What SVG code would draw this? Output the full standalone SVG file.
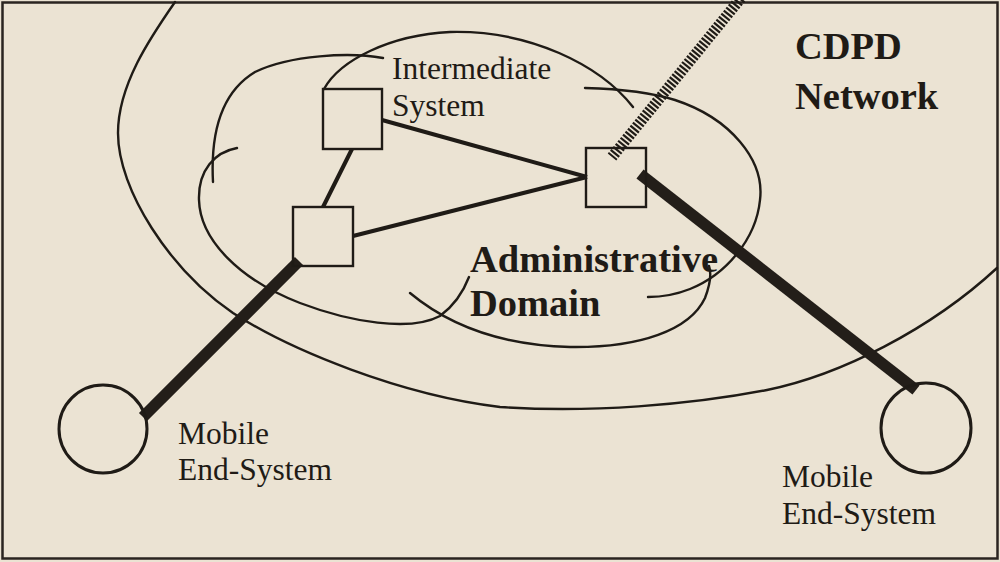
<svg xmlns="http://www.w3.org/2000/svg" width="1000" height="562" viewBox="0 0 1000 562">
<style>
.bg{fill:#ebe3d3}
.frame{fill:none;stroke:#2a2420;stroke-width:2.5}
.curve{fill:none;stroke:#1f1b16;stroke-width:2.4;stroke-linecap:round}
.box{fill:none;stroke:#1f1b16;stroke-width:2.4}
.circ{fill:none;stroke:#1f1b16;stroke-width:3}
.link{stroke:#1f1b16;stroke-width:4;fill:none}
.thick{stroke:#231e19;stroke-width:11.5;fill:none;stroke-linecap:butt}
.hatch{stroke:#1f1b16;stroke-width:11;fill:none;stroke-dasharray:2.2 1.7}
.lbl{font-family:"Liberation Serif","Times New Roman",serif;font-size:31.5px;fill:#1f1b16}
.bold{font-family:"Liberation Serif","Times New Roman",serif;font-size:38.5px;font-weight:bold;fill:#1f1b16}
</style>
<rect class="bg" x="0" y="0" width="1000" height="562"/>
<rect class="frame" x="2.5" y="2.5" width="995" height="556"/>

<g id="regions">
  <path id="cdpd-network-boundary" class="curve" d="M175,2 C150,38 118,85 118,133 C118,190 170,270 233,313 C290,350 400,395 500,407 C590,413 690,405 767,390 C840,375 930,330 997,268"/>
  <path class="curve" d="M383,58 C350,52 290,55 255,72 C225,90 210,125 213,182"/>
  <path class="curve" d="M237,148 C215,152 198,170 199,200 C200,240 240,280 300,303 C350,322 410,332 440,316 C455,305 464,290 469,277"/>
  <path class="curve" d="M410,293 C440,318 490,345 570,347 C640,348 690,330 705,298 C710,285 712,275 709,266"/>
  <path class="curve" d="M585,88 C620,89 650,92 675,100 C730,118 765,160 760,200 C756,240 725,275 690,289 C675,295 660,297 648,297"/>
  <path class="curve" d="M324,89 C340,60 390,35 450,32 C530,30 600,65 633,107"/>
</g>

<g id="connectors">
  <line class="link" x1="382" y1="120" x2="587" y2="177"/>
  <line class="link" x1="353" y1="236" x2="587" y2="177"/>
  <line class="link" x1="352" y1="149" x2="323" y2="207"/>
  <line class="thick" x1="299" y1="261" x2="143" y2="417"/>
  <line class="thick" x1="640" y1="174" x2="916" y2="390"/>
  <line class="hatch" x1="741" y1="-2" x2="612" y2="157"/>
</g>

<g id="is-upper"><rect class="box" x="323" y="89" width="59" height="60"/></g>
<g id="is-lower"><rect class="box" x="293" y="207" width="60" height="59"/></g>
<g id="is-right"><rect class="box" x="586" y="148" width="60" height="59"/></g>
<g id="mes-left"><circle class="circ" cx="103" cy="429" r="44"/></g>
<g id="mes-right"><circle class="circ" cx="926" cy="428" r="45"/></g>

<g id="labels">
  <text class="lbl" x="392" y="79">Intermediate</text>
  <text class="lbl" x="392" y="116">System</text>
  <text class="bold" x="795" y="59">CDPD</text>
  <text class="bold" x="795" y="109">Network</text>
  <text class="bold" x="470" y="272">Administrative</text>
  <text class="bold" x="470" y="316">Domain</text>
  <text class="lbl" x="178" y="444">Mobile</text>
  <text class="lbl" x="178" y="480">End-System</text>
  <text class="lbl" x="782" y="487">Mobile</text>
  <text class="lbl" x="782" y="524">End-System</text>
</g>
</svg>
